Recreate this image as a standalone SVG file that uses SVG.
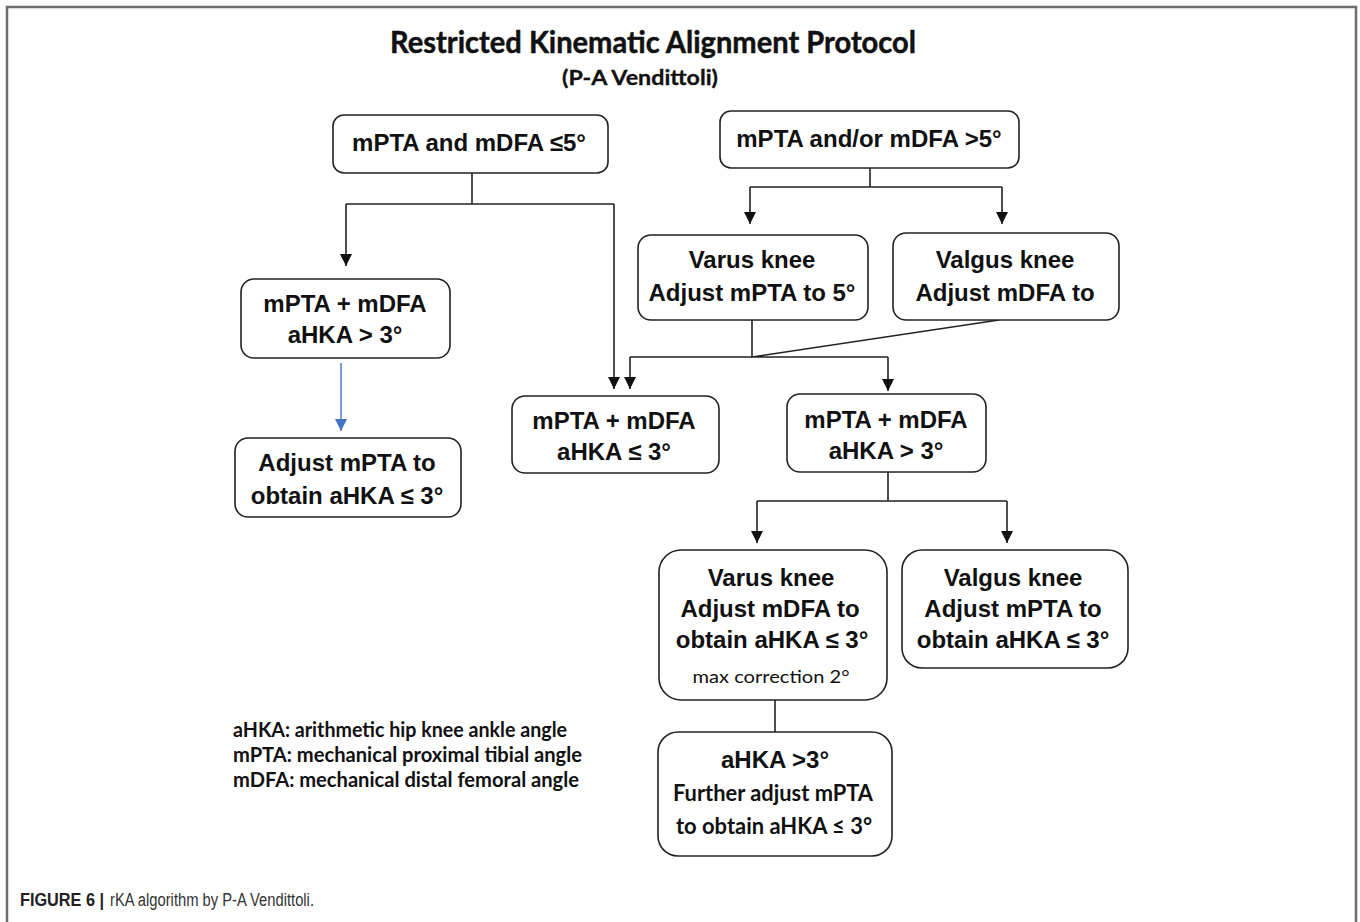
<svg xmlns="http://www.w3.org/2000/svg" width="1360" height="922" viewBox="0 0 1360 922">
<style>
.box{fill:#fff;stroke:#222;stroke-width:1.6}
.ar{font-family:"Liberation Sans",Arial,sans-serif;font-weight:bold;font-size:24px;fill:#111;text-anchor:middle}
.cal{font-family:Lato,"Open Sans",sans-serif;font-weight:bold;fill:#111}
.ln{fill:none;stroke:#222;stroke-width:1.6}
</style>
<defs>
<marker id="ah" markerUnits="userSpaceOnUse" markerWidth="14" markerHeight="14" refX="12" refY="6" orient="auto">
<path d="M0,0 L12,6 L0,12 z" fill="#111"/>
</marker>
<marker id="ahb" markerUnits="userSpaceOnUse" markerWidth="14" markerHeight="14" refX="12" refY="6" orient="auto">
<path d="M0,0 L12,6 L0,12 z" fill="#4472C4"/>
</marker>
</defs>
<rect width="1360" height="922" fill="#fff"/>
<path d="M7,922 V7 H1356 V922" fill="none" stroke="#6e6e6e" stroke-width="2.5"/>

<g id="title">
<text class="cal" x="653" y="53" font-size="31" text-anchor="middle" textLength="526" lengthAdjust="spacingAndGlyphs" stroke="#111" stroke-width="0.5">Restricted Kinematic Alignment Protocol</text>
<text class="cal" x="640" y="85" font-size="20" text-anchor="middle" textLength="156" lengthAdjust="spacingAndGlyphs" stroke="#111" stroke-width="0.3">(P-A Vendittoli)</text>
</g>

<g id="connectors">
<path class="ln" d="M472,173 V204 M346,204 H614"/>
<path class="ln" d="M346,204 V266" marker-end="url(#ah)"/>
<path class="ln" d="M614,204 V389" marker-end="url(#ah)"/>
<path class="ln" d="M870,168 V187 M750,187 H1002"/>
<path class="ln" d="M750,187 V224" marker-end="url(#ah)"/>
<path class="ln" d="M1002,187 V224" marker-end="url(#ah)"/>
<path class="ln" d="M752,320 V357 L999,320 M630,357 H888"/>
<path class="ln" d="M630,357 V389" marker-end="url(#ah)"/>
<path class="ln" d="M888,357 V391" marker-end="url(#ah)"/>
<path d="M341,363 V431" fill="none" stroke="#4472C4" stroke-width="1.4" marker-end="url(#ahb)"/>
<path class="ln" d="M888,472 V501 M757,501 H1007"/>
<path class="ln" d="M757,501 V543" marker-end="url(#ah)"/>
<path class="ln" d="M1007,501 V543" marker-end="url(#ah)"/>
<path class="ln" d="M775,700 V732"/>
</g>

<g id="n1">
<rect class="box" x="333" y="115" width="275" height="58" rx="11"/>
<text class="ar" x="469" y="151">mPTA and mDFA ≤5°</text>
</g>
<g id="n2">
<rect class="box" x="720" y="111" width="299" height="57" rx="11"/>
<text class="ar" x="869" y="147">mPTA and/or mDFA &gt;5°</text>
</g>
<g id="n3">
<rect class="box" x="241" y="279" width="209" height="79" rx="13"/>
<text class="ar" x="345" y="312">mPTA + mDFA</text>
<text class="ar" x="345" y="343">aHKA &gt; 3°</text>
</g>
<g id="n4">
<rect class="box" x="235" y="438" width="226" height="79" rx="13"/>
<text class="ar" x="347" y="471">Adjust mPTA to</text>
<text class="ar" x="347" y="504">obtain aHKA ≤ 3°</text>
</g>
<g id="n5">
<rect class="box" x="638" y="235" width="230" height="85" rx="13"/>
<text class="ar" x="752" y="268">Varus knee</text>
<text class="ar" x="752" y="301">Adjust mPTA to 5°</text>
</g>
<g id="n6">
<rect class="box" x="893" y="233" width="226" height="87" rx="13"/>
<text class="ar" x="1005" y="268">Valgus knee</text>
<text class="ar" x="1005" y="301">Adjust mDFA to</text>
</g>
<g id="n7">
<rect class="box" x="512" y="396" width="207" height="77" rx="13"/>
<text class="ar" x="614" y="429">mPTA + mDFA</text>
<text class="ar" x="614" y="460">aHKA ≤ 3°</text>
</g>
<g id="n8">
<rect class="box" x="787" y="394" width="199" height="78" rx="13"/>
<text class="ar" x="886" y="428">mPTA + mDFA</text>
<text class="ar" x="886" y="459">aHKA &gt; 3°</text>
</g>
<g id="n9">
<rect class="box" x="659" y="550" width="228" height="150" rx="22"/>
<text class="ar" x="771" y="586">Varus knee</text>
<text class="ar" x="770" y="617">Adjust mDFA to</text>
<text class="ar" x="772" y="648">obtain aHKA  ≤ 3°</text>
<text x="771" y="683" font-family="Lato,'Open Sans',sans-serif" font-size="18" fill="#111" text-anchor="middle" textLength="157" lengthAdjust="spacingAndGlyphs">max correction 2°</text>
</g>
<g id="n10">
<rect class="box" x="902" y="550" width="226" height="118" rx="20"/>
<text class="ar" x="1013" y="586">Valgus knee</text>
<text class="ar" x="1013" y="617">Adjust mPTA to</text>
<text class="ar" x="1013" y="648">obtain aHKA ≤ 3°</text>
</g>
<g id="n11">
<rect class="box" x="658" y="732" width="234" height="124" rx="20"/>
<text class="ar" x="775" y="768">aHKA &gt;3°</text>
<text class="cal" x="773" y="801" font-size="22" text-anchor="middle" textLength="200" lengthAdjust="spacingAndGlyphs">Further adjust mPTA</text>
<text class="cal" x="774" y="834" font-size="23" text-anchor="middle" textLength="196" lengthAdjust="spacingAndGlyphs">to obtain aHKA ≤ 3°</text>
</g>

<g id="legend">
<text class="cal" x="233" y="737" font-size="21" textLength="334" lengthAdjust="spacingAndGlyphs">aHKA: arithmetic hip knee ankle angle</text>
<text class="cal" x="233" y="762" font-size="21" textLength="349" lengthAdjust="spacingAndGlyphs">mPTA: mechanical proximal tibial angle</text>
<text class="cal" x="233" y="787" font-size="21" textLength="346" lengthAdjust="spacingAndGlyphs">mDFA: mechanical distal femoral angle</text>
</g>

<g id="caption">
<text x="20" y="906" font-family="'Liberation Sans',Arial,sans-serif" font-size="18" font-weight="bold" fill="#222" textLength="84" lengthAdjust="spacingAndGlyphs">FIGURE 6 |</text>
<text x="110" y="906" font-family="'Liberation Sans',Arial,sans-serif" font-size="18" fill="#333" textLength="204" lengthAdjust="spacingAndGlyphs">rKA algorithm by P-A Vendittoli.</text>
</g>
</svg>
